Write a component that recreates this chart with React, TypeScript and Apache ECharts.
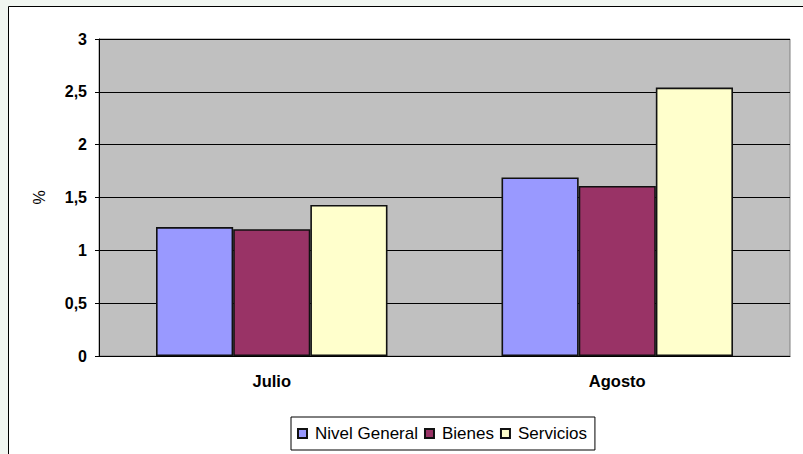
import React, { useEffect, useRef } from "react";
import * as echarts from "echarts";

const categories = ["Julio", "Agosto"];
const seriesNames = ["Nivel General", "Bienes", "Servicios"];
const nivelGeneral = [1.22, 1.69];
const bienes = [1.2, 1.61];
const servicios = [1.43, 2.54];
const colors = ["#9999FF", "#993366", "#FFFFCC"];

export default function App() {
  const ref = useRef<HTMLDivElement>(null);
  useEffect(() => {
    const chart = echarts.init(ref.current!, null, { renderer: "svg" });
    const data = [nivelGeneral, bienes, servicios];
    chart.setOption({
      animation: false,
      backgroundColor: "#F1F6F1",
      graphic: [
        {
          type: "rect",
          shape: { x: 8.5, y: 6.5, width: 820, height: 470 },
          style: { fill: "#FFFFFF", stroke: "#000000", lineWidth: 1 },
          z: -10,
          silent: true,
        },
      ],
      grid: {
        left: 99,
        top: 39,
        right: 13,
        bottom: 98,
        show: true,
        backgroundColor: "#C0C0C0",
        borderColor: "#808080",
        borderWidth: 1,
      },
      legend: {
        left: 291,
        top: 417,
        padding: [8, 8, 8, 6],
        itemWidth: 9,
        itemHeight: 9,
        itemGap: 6,
        borderColor: "#000000",
        borderWidth: 1,
        backgroundColor: "#FFFFFF",
        icon: "rect",
        textStyle: {
          fontFamily: "Liberation Sans, Arial, sans-serif",
          fontSize: 17,
          color: "#000000",
          padding: [0, 0, 0, 3],
        },
        data: seriesNames,
      },
      xAxis: {
        type: "category",
        data: categories,
        axisLine: { lineStyle: { color: "#000000", width: 1 } },
        axisTick: { length: 5, lineStyle: { color: "#000000" } },
        axisLabel: {
          margin: 16,
          fontFamily: "Liberation Sans, Arial, sans-serif",
          fontWeight: "bold",
          fontSize: 16.5,
          color: "#000000",
        },
      },
      yAxis: {
        type: "value",
        min: 0,
        max: 3,
        interval: 0.5,
        name: "%",
        nameLocation: "middle",
        nameRotate: 90,
        nameGap: 52,
        nameTextStyle: {
          fontFamily: "Liberation Sans, Arial, sans-serif",
          fontSize: 16,
          color: "#000000",
        },
        axisLine: { show: true, lineStyle: { color: "#000000", width: 1 } },
        axisTick: { show: true, length: 4, lineStyle: { color: "#000000" } },
        splitLine: { lineStyle: { color: "#000000", width: 1 } },
        axisLabel: {
          margin: 12,
          fontFamily: "Liberation Sans, Arial, sans-serif",
          fontWeight: "bold",
          fontSize: 16,
          color: "#000000",
          formatter: (v: number) => String(v).replace(".", ","),
        },
      },
      series: seriesNames.map((name, i) => ({
        name,
        type: "bar",
        data: data[i],
        barGap: "0%",
        barCategoryGap: "33%",
        itemStyle: {
          color: colors[i],
          borderColor: "#111111",
          borderWidth: 1.6,
        },
      })),
    });
    return () => chart.dispose();
  }, []);
  return (
    <div
      ref={ref}
      style={{ position: "absolute", left: 0, top: 0, width: 803, height: 454 }}
    />
  );
}
